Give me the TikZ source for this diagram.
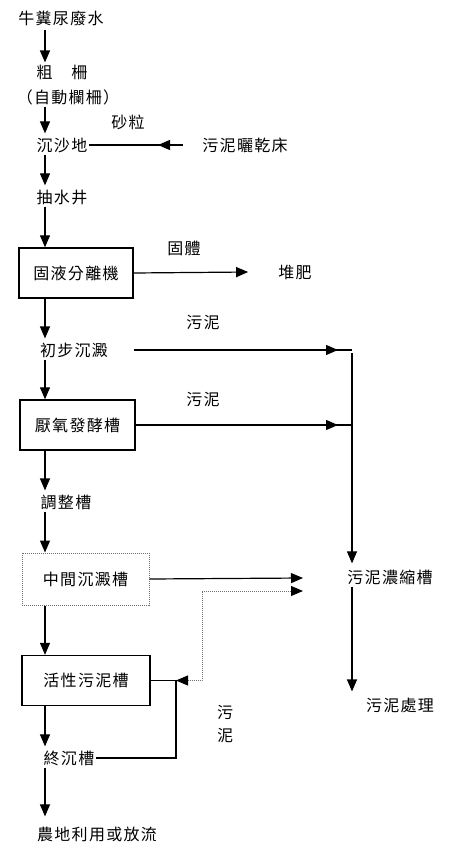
\documentclass[tikz,border=0pt]{standalone}
\usepackage{fontspec}
\newfontfamily\zhfont[LetterSpace=8]{Noto Sans CJK TC}
\usetikzlibrary{positioning,arrows.meta}
\definecolor{DotGray}{RGB}{110,110,110}

\begin{document}
\begin{tikzpicture}[
    x=1pt, y=-1pt,
    every node/.style={font=\zhfont\fontsize{16}{18}\selectfont, inner sep=2pt},
    unit/.style={draw, line width=1.4pt, minimum height=50pt, inner sep=0pt},
    dotunit/.style={draw=DotGray, line width=1pt, dash pattern=on 1pt off 1pt, minimum height=52pt, inner sep=0pt},
    flow/.style={line width=1.2pt, -{Triangle[length=12pt,width=10pt]}},
    line/.style={line width=1.2pt},
]
\useasboundingbox (0,0) rectangle (450,862);

% guide lines
\coordinate (spine) at (45,0);
\coordinate (collect) at (352,0);

% main train
\node (raw)    at (61,18)  {牛糞尿廢水};
\node (screen) at (62,72)  {粗　柵};
\node (auto)   at (68,97)  {（自動欄柵）};
\node (grit)   at (62,145) {沉沙地};
\node (pump)   at (62,197) {抽水井};
\node[unit, minimum width=114pt] (sep)   at (76,273)  {固液分離機};
\node (prim)   at (74,350) {初步沉澱};
\node[unit, minimum width=115pt] (anaer) at (77.5,425) {厭氧發酵槽};
\node (adj)    at (66,502) {調整槽};
\node[dotunit, minimum width=127pt] (mid) at (85.5,579) {中間沉澱槽};
\node[unit, minimum width=128pt] (act)   at (86,680.5) {活性污泥槽};
\node (final)  at (69,758) {終沉槽};
\node (out)    at (97,834) {農地利用或放流};

% side units
\node (drybed)  at (245,145) {污泥曬乾床};
\node (compost) at (295,272) {堆肥};
\node (thick)   at (390,577) {污泥濃縮槽};
\node (treat)   at (400,705) {污泥處理};

% labels
\node (lsand)  at (128,122) {砂粒};
\node (lsolid) at (184,248) {固體};
\node (lsl1)   at (203,323) {污泥};
\node (lsl2)   at (203,400) {污泥};
\node (lsl3a)  at (225,712) {污};
\node (lsl3b)  at (225,735) {泥};

% spine arrows
\draw[flow] ([yshift=-2pt]raw.south -| spine) -- (screen.north -| spine);
\draw[flow] (auto.south -| spine) -- ([yshift=2pt]grit.north -| spine);
\draw[flow] (grit.south -| spine) -- ([yshift=2pt]pump.north -| spine);
\draw[flow] (pump.south -| spine) -- (sep.north -| spine);
\draw[flow] (sep.south -| spine) -- ([yshift=2pt]prim.north -| spine);
\draw[flow] (prim.south -| spine) -- (anaer.north -| spine);
\draw[flow] (anaer.south -| spine) -- ([yshift=2pt]adj.north -| spine);
\draw[flow] (adj.south -| spine) -- (mid.north -| spine);
\draw[flow] (mid.south -| spine) -- (act.north -| spine);
\draw[flow] (act.south -| spine) -- ([yshift=2pt]final.north -| spine);
\draw[flow] (final.south -| spine) -- ([yshift=8pt]out.north -| spine);

% grit from drying bed
\coordinate (dryend) at (183,145);
\draw[line] (dryend) -- (grit.east);
\draw[flow] (dryend) -- ++(-25,0);

% solids to compost
\draw[flow] (sep.east) -- ([xshift=-28pt]compost.west);

% sludge collection
\coordinate (j1) at (collect |- prim);
\coordinate (j2) at (collect |- anaer);
\draw[line] (sep.east |- prim) -- (j1);
\draw[flow] (sep.east |- prim) -- ([xshift=-14pt]j1);
\draw[line] (anaer.east) -- (j2);
\draw[flow] (anaer.east) -- ([xshift=-14pt]j2);
\draw[flow] ([yshift=-3pt]j1) -- ([yshift=4pt]collect |- thick.north);
\draw[flow] (collect |- thick.south) -- ([yshift=4pt]collect |- treat.north);

% intermediate and return sludge
\coordinate (in1) at (303,578);
\coordinate (in2) at (303,591);
\coordinate (retj) at (176,680.5);
\coordinate (dbend) at (202,680.5);
\draw[flow] (mid.east) -- (in1);
\draw[line] (final.east) -| (retj) -- (act.east);
\draw[line width=1pt, DotGray, dash pattern=on 1pt off 1pt,
      {Triangle[length=12pt,width=10pt,color=black]}-{Triangle[length=12pt,width=10pt,color=black]}]
    (retj) -- (dbend) |- (in2);
\end{tikzpicture}
\end{document}
